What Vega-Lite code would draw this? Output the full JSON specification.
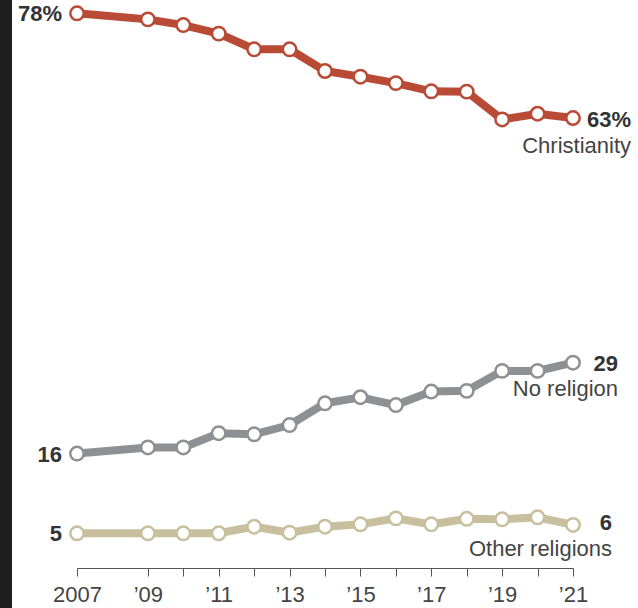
{
  "$schema": "https://vega.github.io/schema/vega-lite/v6.json",
  "width": 626,
  "height": 608,
  "autosize": "none",
  "padding": {"left": 12, "top": 0, "right": 0, "bottom": 0},
  "background": "#1e1e1e",
  "config": {
    "view": {"fill": "white", "stroke": null},
    "font": "Liberation Sans"
  },
  "data": {
    "values": [
      {"year": 2007, "series": "Christianity", "value": 78.0, "label": "78%"},
      {"year": 2009, "series": "Christianity", "value": 77.15},
      {"year": 2010, "series": "Christianity", "value": 76.35},
      {"year": 2011, "series": "Christianity", "value": 75.15},
      {"year": 2012, "series": "Christianity", "value": 72.95},
      {"year": 2013, "series": "Christianity", "value": 72.95},
      {"year": 2014, "series": "Christianity", "value": 69.9},
      {"year": 2015, "series": "Christianity", "value": 69.1},
      {"year": 2016, "series": "Christianity", "value": 68.2},
      {"year": 2017, "series": "Christianity", "value": 67.05},
      {"year": 2018, "series": "Christianity", "value": 67.0},
      {"year": 2019, "series": "Christianity", "value": 63.1},
      {"year": 2020, "series": "Christianity", "value": 63.9},
      {"year": 2021, "series": "Christianity", "value": 63.3, "label": "63%"},
      {"year": 2007, "series": "No religion", "value": 16.2, "label": "16"},
      {"year": 2009, "series": "No religion", "value": 17.05},
      {"year": 2010, "series": "No religion", "value": 17.05},
      {"year": 2011, "series": "No religion", "value": 19.05},
      {"year": 2012, "series": "No religion", "value": 18.9},
      {"year": 2013, "series": "No religion", "value": 20.2},
      {"year": 2014, "series": "No religion", "value": 23.25},
      {"year": 2015, "series": "No religion", "value": 24.1},
      {"year": 2016, "series": "No religion", "value": 23.0},
      {"year": 2017, "series": "No religion", "value": 24.9},
      {"year": 2018, "series": "No religion", "value": 25.0},
      {"year": 2019, "series": "No religion", "value": 27.8},
      {"year": 2020, "series": "No religion", "value": 27.8},
      {"year": 2021, "series": "No religion", "value": 28.95, "label": "29"},
      {"year": 2007, "series": "Other religions", "value": 5.0, "label": "5"},
      {"year": 2009, "series": "Other religions", "value": 5.0},
      {"year": 2010, "series": "Other religions", "value": 5.0},
      {"year": 2011, "series": "Other religions", "value": 5.0},
      {"year": 2012, "series": "Other religions", "value": 5.93},
      {"year": 2013, "series": "Other religions", "value": 5.08},
      {"year": 2014, "series": "Other religions", "value": 5.93},
      {"year": 2015, "series": "Other religions", "value": 6.26},
      {"year": 2016, "series": "Other religions", "value": 7.1},
      {"year": 2017, "series": "Other religions", "value": 6.26},
      {"year": 2018, "series": "Other religions", "value": 7.04},
      {"year": 2019, "series": "Other religions", "value": 6.97},
      {"year": 2020, "series": "Other religions", "value": 7.25},
      {"year": 2021, "series": "Other religions", "value": 6.17, "label": "6"}
    ]
  },
  "encoding": {
    "x": {
      "field": "year",
      "type": "quantitative",
      "scale": {"domain": [2007, 2021], "range": [65, 561], "nice": false, "zero": false},
      "axis": {
        "title": null,
        "orient": "bottom",
        "offset": -40,
        "values": [2007, 2009, 2010, 2011, 2012, 2013, 2014, 2015, 2016, 2017, 2018, 2019, 2020, 2021],
        "labelExpr": "datum.value == 2007 ? '2007' : (datum.value % 2 == 1 ? '’' + slice(toString(datum.value), 2) : '')",
        "grid": false,
        "domainColor": "#555555",
        "tickColor": "#555555",
        "tickSize": 8,
        "labelFontSize": 22,
        "labelColor": "#444444",
        "labelPadding": 8,
        "labelFlush": false,
        "labelOverlap": false
      }
    },
    "y": {
      "field": "value",
      "type": "quantitative",
      "scale": {"domain": [5, 78], "range": [533.3, 13.3], "nice": false, "zero": false},
      "axis": null
    },
    "color": {
      "field": "series",
      "type": "nominal",
      "scale": {
        "domain": ["Christianity", "No religion", "Other religions"],
        "range": ["#b84a36", "#8f9094", "#c8bf9f"]
      },
      "legend": null
    }
  },
  "layer": [
    {"mark": {"type": "line", "strokeWidth": 8}},
    {"mark": {"type": "point", "shape": "circle", "filled": false, "fill": "white", "fillOpacity": 1, "opacity": 1, "size": 180, "strokeWidth": 2.5}},
    {
      "transform": [{"filter": "datum.year == 2007"}],
      "mark": {"type": "text", "align": "right", "baseline": "middle", "dx": -15, "dy": 1, "fontSize": 22, "fontWeight": "bold"},
      "encoding": {"text": {"field": "label"}, "color": {"value": "#333333"}}
    },
    {
      "transform": [{"filter": "datum.year == 2021 && datum.series == 'Christianity'"}],
      "layer": [
        {
          "mark": {"type": "text", "align": "right", "baseline": "middle", "dx": 58, "dy": 2, "fontSize": 22, "fontWeight": "bold"},
          "encoding": {"text": {"field": "label"}, "color": {"value": "#333333"}}
        },
        {
          "mark": {"type": "text", "align": "right", "baseline": "middle", "dx": 58, "dy": 28, "fontSize": 22},
          "encoding": {"text": {"field": "series"}, "color": {"value": "#444444"}}
        }
      ]
    },
    {
      "transform": [{"filter": "datum.year == 2021 && datum.series == 'No religion'"}],
      "layer": [
        {
          "mark": {"type": "text", "align": "right", "baseline": "middle", "dx": 45, "dy": 1, "fontSize": 22, "fontWeight": "bold"},
          "encoding": {"text": {"field": "label"}, "color": {"value": "#333333"}}
        },
        {
          "mark": {"type": "text", "align": "right", "baseline": "middle", "dx": 45, "dy": 26, "fontSize": 22},
          "encoding": {"text": {"field": "series"}, "color": {"value": "#444444"}}
        }
      ]
    },
    {
      "transform": [{"filter": "datum.year == 2021 && datum.series == 'Other religions'"}],
      "layer": [
        {
          "mark": {"type": "text", "align": "right", "baseline": "middle", "dx": 39, "dy": -2, "fontSize": 22, "fontWeight": "bold"},
          "encoding": {"text": {"field": "label"}, "color": {"value": "#333333"}}
        },
        {
          "mark": {"type": "text", "align": "right", "baseline": "middle", "dx": 39, "dy": 24, "fontSize": 22},
          "encoding": {"text": {"field": "series"}, "color": {"value": "#444444"}}
        }
      ]
    }
  ]
}
